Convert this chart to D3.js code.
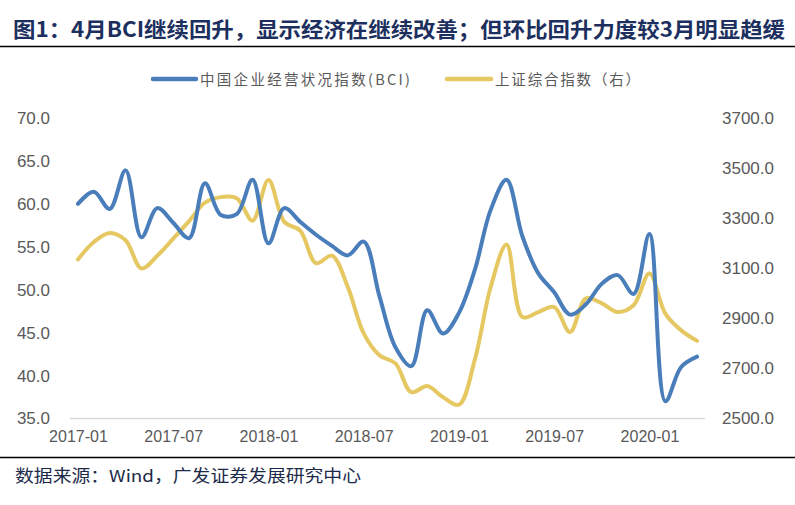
<!DOCTYPE html>
<html><head><meta charset="utf-8">
<script src="https://cdn.jsdelivr.net/npm/d3@7"></script>
<style>
html,body{margin:0;padding:0;background:#fff;}
svg{display:block;}
</style>
</head><body>
<svg id="c" width="795" height="505"></svg>
<script>
const months = ["2017-01","2017-02","2017-03","2017-04","2017-05","2017-06","2017-07","2017-08","2017-09","2017-10","2017-11","2017-12",
"2018-01","2018-02","2018-03","2018-04","2018-05","2018-06","2018-07","2018-08","2018-09","2018-10","2018-11","2018-12",
"2019-01","2019-02","2019-03","2019-04","2019-05","2019-06","2019-07","2019-08","2019-09","2019-10","2019-11","2019-12",
"2020-01","2020-02","2020-03","2020-04"];
const bci = [60.0,61.4,59.4,63.9,56.1,59.5,57.8,56.0,62.4,58.7,58.8,62.8,
55.4,59.5,57.9,56.4,55.1,54.0,55.6,49.2,43.3,41.1,47.6,44.9,
47.3,52.3,59.3,62.8,56.2,51.9,49.7,47.1,48.3,50.7,51.7,49.5,
56.5,37.0,41.0,42.2];
const sse = [3135,3205,3241,3212,3099,3150,3218,3288,3362,3384,3380,3290,
3452,3285,3250,3120,3150,3025,2840,2752,2720,2605,2630,2585,
2555,2735,3025,3195,2905,2925,2945,2845,2980,2960,2925,2952,
3079,2919,2852,2810];
const xTicks = ["2017-01","2017-07","2018-01","2018-07","2019-01","2019-07","2020-01"];
const leftTicks = [35,40,45,50,55,60,65,70];
const rightTicks = [2500,2700,2900,3100,3300,3500,3700];
const title = "图1：4月BCI继续回升，显示经济在继续改善；但环比回升力度较3月明显趋缓";
const source = "数据来源：Wind，广发证券发展研究中心";
const seriesNames = ["中国企业经营状况指数(BCI)","上证综合指数（右）"];

const svg = d3.select("#c");
const L = 70, R = 705, T = 118, B = 418.5;
const x = d3.scalePoint().domain(months).range([L, R]).padding(0.5);
const yL = d3.scaleLinear().domain([35, 70]).range([B, T]);
const yR = d3.scaleLinear().domain([2500, 3700]).range([B, T]);
const blue = "#4a7ebb", yellow = "#e6c862", txt = "#595959";
const cjk = "'Noto Sans CJK SC', 'Noto Sans', sans-serif";
const lat = "'Liberation Sans', Arial, sans-serif";

// title
svg.append("text").attr("x", 13).attr("y", 37).attr("font-family", cjk)
  .attr("font-weight", "bold").attr("font-size", 21).attr("fill", "#1c2f5e")
  .attr("textLength", 772).attr("lengthAdjust", "spacingAndGlyphs").text(title);
svg.append("line").attr("x1", 0).attr("x2", 795).attr("y1", 46.5).attr("y2", 46.5)
  .attr("stroke", "#000").attr("stroke-width", 1.5);

// legend
const leg = [{x1:153,x2:196,tx:200,w:210,c:blue,t:seriesNames[0]},{x1:447,x2:491,tx:495,w:145,c:yellow,t:seriesNames[1]}];
leg.forEach(d => {
  svg.append("line").attr("x1", d.x1).attr("x2", d.x2).attr("y1", 79).attr("y2", 79)
    .attr("stroke", d.c).attr("stroke-width", 4.5).attr("stroke-linecap", "round");
  svg.append("text").attr("x", d.tx).attr("y", 84.5).attr("font-family", cjk)
    .attr("font-size", 14.5).attr("fill", txt).attr("textLength", d.w)
    .attr("lengthAdjust", "spacing").text(d.t);
});

// x axis
svg.append("line").attr("x1", L).attr("x2", R).attr("y1", B).attr("y2", B)
  .attr("stroke", "#d9d9d9").attr("stroke-width", 1.5);
const xa = svg.append("g").attr("transform", `translate(0,${B})`)
  .call(d3.axisBottom(x).tickValues(xTicks).tickSize(0).tickPadding(12));
xa.select(".domain").remove();
xa.selectAll("text").attr("font-family", lat).attr("font-size", 16).attr("fill", txt);

const ya = svg.append("g").attr("transform", `translate(${L},0)`)
  .call(d3.axisLeft(yL).tickValues(leftTicks).tickFormat(d3.format(".1f")).tickSize(0).tickPadding(20));
ya.select(".domain").remove();
ya.selectAll("text").attr("font-family", lat).attr("font-size", 17).attr("fill", txt);

const yra = svg.append("g").attr("transform", `translate(${R},0)`)
  .call(d3.axisRight(yR).tickValues(rightTicks).tickFormat(d3.format(".1f")).tickSize(0).tickPadding(17));
yra.select(".domain").remove();
yra.selectAll("text").attr("font-family", lat).attr("font-size", 17).attr("fill", txt);

// lines
const curve = d3.curveCatmullRom.alpha(0.5);
const lineL = d3.line().x((d, i) => x(months[i])).y(d => yL(d)).curve(curve);
const lineR = d3.line().x((d, i) => x(months[i])).y(d => yR(d)).curve(curve);
svg.append("path").attr("d", lineR(sse)).attr("fill", "none").attr("stroke", yellow)
  .attr("stroke-width", 4).attr("stroke-linejoin", "round").attr("stroke-linecap", "round");
svg.append("path").attr("d", lineL(bci)).attr("fill", "none").attr("stroke", blue)
  .attr("stroke-width", 4).attr("stroke-linejoin", "round").attr("stroke-linecap", "round");

// source
svg.append("line").attr("x1", 0).attr("x2", 795).attr("y1", 457.5).attr("y2", 457.5)
  .attr("stroke", "#000").attr("stroke-width", 1.5);
svg.append("text").attr("x", 15).attr("y", 482).attr("font-family", cjk)
  .attr("font-size", 16.5).attr("fill", "#1c2a4a").attr("textLength", 346)
  .attr("lengthAdjust", "spacingAndGlyphs").text(source);
</script>
</body></html>
